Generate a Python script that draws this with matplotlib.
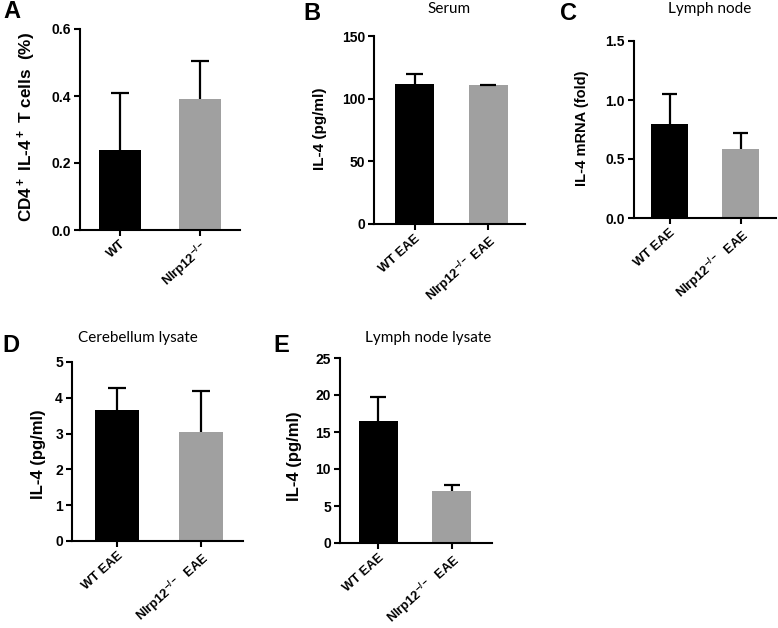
import numpy as np
import matplotlib
matplotlib.use("Agg")
import matplotlib.pyplot as plt

plt.rcParams["font.family"] = ["Liberation Sans", "DejaVu Sans"]
plt.rcParams["font.weight"] = "bold"
plt.rcParams["mathtext.default"] = "regular"

W, H = 778, 628

# data
cats_a = ["WT", "Nlrp12$^{-/-}$"]
cats_b = ["WT EAE", "Nlrp12$^{-/-}$ EAE"]
cats_cde = ["WT EAE", "Nlrp12$^{-/-}$  EAE"]

a_mean = [0.238, 0.392]
a_top = [0.41, 0.505]
b_mean = [111.5, 110.7]
b_top = [119.7, 111.3]
c_mean = [0.795, 0.586]
c_top = [1.05, 0.722]
d_mean = [3.65, 3.04]
d_top = [4.26, 4.2]
e_mean = [16.5, 7.0]
e_top = [19.7, 7.8]

bar_colors = ["#000000", "#a0a0a0"]


def px(x, y):
    return x / W, 1 - y / H


def make_axes(fig, left, top, right, bottom):
    return fig.add_axes([left / W, 1 - bottom / H, (right - left) / W, (bottom - top) / H])


def draw_panel(ax, cats, mean, top, ymax, yticks, yfmt, xlim, cap=0.11):
    x = np.arange(len(cats))
    ax.bar(x, mean, width=0.53, color=bar_colors, zorder=2)
    # upward-only error bars
    ax.vlines(x, mean, top, color="black", lw=1.6, zorder=3)
    ax.hlines(top, x - cap, x + cap, color="black", lw=1.6, zorder=3)
    ax.set_xlim(*xlim)
    ax.set_ylim(0, ymax)
    ax.set_yticks(yticks)
    ax.set_yticklabels([yfmt.format(v) for v in yticks], fontsize=10)
    ax.set_xticks(x)
    ax.set_xticklabels(cats, rotation=42, ha="right", rotation_mode="anchor", fontsize=9.3)
    for s in ["top", "right"]:
        ax.spines[s].set_visible(False)
    for s in ["left", "bottom"]:
        ax.spines[s].set_linewidth(1.5)
    ax.tick_params(width=1.5, length=4.5, pad=2)
    ax.tick_params(axis="x", pad=1.5)
    for lab in ax.get_xticklabels() + ax.get_yticklabels():
        lab.set_fontweight("bold")


fig = plt.figure(figsize=(W / 100, H / 100), dpi=100)

ax_a = make_axes(fig, 80, 29, 240, 230)
draw_panel(ax_a, cats_a, a_mean, a_top, 0.6, [0, 0.2, 0.4, 0.6], "{:.1f}", (-0.5, 1.5))

ax_b = make_axes(fig, 374, 36, 525, 224)
draw_panel(ax_b, cats_b, b_mean, b_top, 150, [0, 50, 100, 150], "{:.0f}", (-0.55, 1.5))

ax_c = make_axes(fig, 634, 41, 776, 218)
draw_panel(ax_c, cats_cde, c_mean, c_top, 1.5, [0, 0.5, 1.0, 1.5], "{:.1f}", (-0.5, 1.5))

ax_d = make_axes(fig, 72, 362, 243, 541)
draw_panel(ax_d, cats_cde, d_mean, d_top, 5, [0, 1, 2, 3, 4, 5], "{:.0f}", (-0.54, 1.5))

ax_e = make_axes(fig, 340, 358, 492, 543)
draw_panel(ax_e, cats_cde, e_mean, e_top, 25, [0, 5, 10, 15, 20, 25], "{:.0f}", (-0.52, 1.55))

# y labels
ylab_style = dict(rotation=90, ha="center", va="center", fontweight="bold")
fig.text(*px(27, 127), "CD4$^+$ IL-4$^+$ T cells  (%)", fontsize=12.3, **ylab_style)
fig.text(*px(320, 129), "IL-4 (pg/ml)", fontsize=11, **ylab_style)
fig.text(*px(582, 128), "IL-4 mRNA (fold)", fontsize=10.5, **ylab_style)
fig.text(*px(38, 454), "IL-4 (pg/ml)", fontsize=12, **ylab_style)
fig.text(*px(295, 456), "IL-4 (pg/ml)", fontsize=12, **ylab_style)

# panel titles
title_style = dict(ha="center", va="center", fontweight="normal", family=["Lato", "DejaVu Sans"])
fig.text(*px(449, 9), "Serum", fontsize=11, **title_style)
fig.text(*px(710, 9), "Lymph node", fontsize=11, **title_style)
fig.text(*px(138, 338), "Cerebellum lysate", fontsize=11, **title_style)
fig.text(*px(428, 338), "Lymph node lysate", fontsize=11, **title_style)

# panel letters
letter_style = dict(ha="left", va="center", fontweight="bold", fontsize=17)
fig.text(*px(3, 12), "A", **letter_style)
fig.text(*px(303, 13), "B", **letter_style)
fig.text(*px(560, 13), "C", **letter_style)
fig.text(*px(2, 345), "D", **letter_style)
fig.text(*px(273, 345), "E", **letter_style)

fig.savefig("out.png", dpi=100)
